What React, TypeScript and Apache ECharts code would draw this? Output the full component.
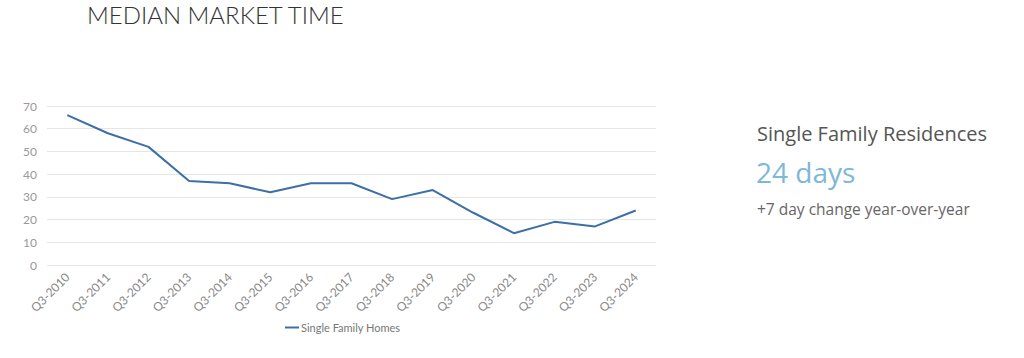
import React, { useEffect, useRef } from "react";
import * as echarts from "echarts";

const categories = [
  "Q3-2010", "Q3-2011", "Q3-2012", "Q3-2013", "Q3-2014", "Q3-2015", "Q3-2016", "Q3-2017",
  "Q3-2018", "Q3-2019", "Q3-2020", "Q3-2021", "Q3-2022", "Q3-2023", "Q3-2024",
];
const singleFamilyHomes = [66, 58, 52, 37, 36, 32, 36, 36, 29, 33, 23, 14, 19, 17, 24];
const seriesName = "Single Family Homes";
const titleText = "MEDIAN MARKET TIME";
const sideHeading = "Single Family Residences";
const sideValue = "24 days";
const sideChange = "+7 day change year-over-year";

export default function App() {
  const ref = useRef<HTMLDivElement>(null);
  useEffect(() => {
    document.body.style.margin = "0";
    if (!ref.current) return;
    const chart = echarts.init(ref.current, undefined, { renderer: "svg" });
    chart.setOption({
      animation: false,
      textStyle: { fontFamily: "Lato" },
      grid: { left: 47, right: 368, top: 106, bottom: 93, containLabel: false },
      legend: {
        data: [seriesName],
        left: 280,
        top: 317,
        icon: "rect",
        itemWidth: 14,
        itemHeight: 2,
        itemGap: 2,
        textStyle: { fontFamily: "Lato", fontSize: 11, color: "#777", padding: [0, 0, 0, -3] },
      },
      xAxis: {
        type: "category",
        data: categories,
        boundaryGap: true,
        axisLine: { show: false },
        axisTick: { show: false },
        axisLabel: { rotate: 45, color: "#888", fontSize: 12, margin: 10, fontFamily: "Lato" },
      },
      yAxis: {
        type: "value",
        min: 0,
        max: 70,
        interval: 10,
        axisLabel: { color: "#999", fontSize: 12, margin: 10, fontFamily: "Lato" },
        splitLine: { lineStyle: { color: "#e6e6e6", width: 1 } },
        axisLine: { show: false },
        axisTick: { show: false },
      },
      series: [
        {
          name: seriesName,
          type: "line",
          data: singleFamilyHomes,
          symbol: "none",
          lineStyle: { color: "#3d6fa6", width: 2 },
          itemStyle: { color: "#3d6fa6" },
        },
      ],
      graphic: [
        {
          type: "text",
          left: 87,
          top: 2,
          style: {
            text: titleText,
            fontFamily: "Lato",
            fontWeight: 300,
            fontSize: 24,
            fill: "#333",
          },
        },
        {
          type: "text",
          left: 757,
          top: 123,
          style: { text: sideHeading, fontFamily: "Open Sans", fontSize: 20, fill: "#555" },
        },
        {
          type: "text",
          left: 756,
          top: 158,
          style: { text: sideValue, fontFamily: "Open Sans", fontSize: 28, fill: "#7db8d8" },
        },
        {
          type: "text",
          left: 757,
          top: 201,
          style: { text: sideChange, fontFamily: "Open Sans", fontSize: 15.5, fill: "#666" },
        },
      ],
    });
    return () => chart.dispose();
  }, []);
  return <div ref={ref} style={{ width: 1024, height: 358 }} />;
}
